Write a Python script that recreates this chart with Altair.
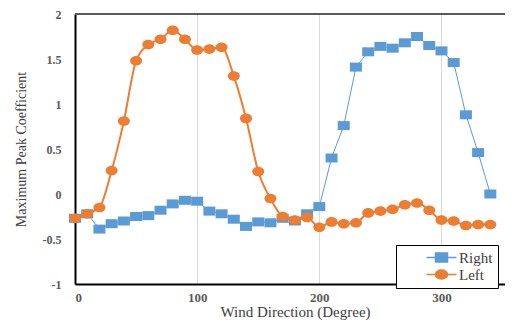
import altair as alt
import pandas as pd

directions = [0, 10, 20, 30, 40, 50, 60, 70, 80, 90, 100, 110, 120, 130, 140, 150, 160, 170,
              180, 190, 200, 210, 220, 230, 240, 250, 260, 270, 280, 290, 300, 310, 320, 330, 340]
right = [-0.27, -0.22, -0.39, -0.33, -0.30, -0.25, -0.24, -0.18, -0.11, -0.07, -0.08, -0.19,
         -0.22, -0.28, -0.36, -0.31, -0.32, -0.27, -0.30, -0.22, -0.14, 0.40, 0.76, 1.41,
         1.58, 1.64, 1.62, 1.68, 1.75, 1.65, 1.59, 1.46, 0.88, 0.46, 0.00]
left = [-0.27, -0.22, -0.15, 0.26, 0.81, 1.48, 1.66, 1.72, 1.82, 1.72, 1.60, 1.61, 1.63,
        1.31, 0.84, 0.25, -0.05, -0.25, -0.29, -0.26, -0.37, -0.31, -0.33, -0.32, -0.21,
        -0.19, -0.17, -0.12, -0.10, -0.18, -0.29, -0.30, -0.35, -0.34, -0.34]
series_names = ["Right", "Left"]
series_colors = ["#5B9BD5", "#ED7D31"]
x_ticks = [0, 100, 200, 300]
y_ticks = [-1, -0.5, 0, 0.5, 1, 1.5, 2]

df = pd.DataFrame({
    "Direction": directions * 2,
    "Value": right + left,
    "Series": ["Right"] * len(directions) + ["Left"] * len(directions),
})

FONT = "Times New Roman"

x_enc = alt.X("Direction:Q",
              scale=alt.Scale(domain=[0, 352], nice=False, zero=False),
              axis=alt.Axis(values=x_ticks, title="Wind Direction  (Degree)",
                            ticks=False, labelPadding=7, labelFontWeight="bold",
                            labelFont=FONT, labelFontSize=13, labelColor="#595959",
                            titleFont=FONT, titleFontSize=15, titleFontWeight="normal",
                            titleColor="#404040", titlePadding=0, titleX=220,
                            domainColor="#000000", domainWidth=2,
                            gridColor="#d9d9d9", gridWidth=1))
y_enc = alt.Y("Value:Q",
              scale=alt.Scale(domain=[-1, 2], nice=False, zero=False),
              axis=alt.Axis(values=y_ticks, title="Maximum  Peak Coefficient",
                            labelExpr="datum.value + ''",
                            ticks=False, labelPadding=14, labelFontWeight="bold",
                            labelFont=FONT, labelFontSize=12, labelColor="#595959",
                            titleFont=FONT, titleFontSize=14, titleFontWeight="normal",
                            titleColor="#404040", titlePadding=14,
                            domainColor="#000000", domainWidth=2,
                            gridColor="#d9d9d9", gridWidth=1))

base = alt.Chart(df)

right_line = base.transform_filter(alt.datum.Series == "Right").mark_line(
    color=series_colors[0], strokeWidth=1).encode(x=x_enc, y=y_enc)
right_pts = base.transform_filter(alt.datum.Series == "Right").mark_point(
    shape="M-1,-0.75H1V0.75H-1Z", size=144, filled=True, opacity=1,
    color=series_colors[0]).encode(x="Direction:Q", y="Value:Q")
left_line = base.transform_filter(alt.datum.Series == "Left").mark_line(
    color=series_colors[1], strokeWidth=2, interpolate="monotone").encode(x="Direction:Q", y="Value:Q")
left_pts = base.transform_filter(alt.datum.Series == "Left").mark_point(
    shape="M1,0A1,0.8,0,1,1,-1,0A1,0.8,0,1,1,1,0Z", size=144, filled=True, opacity=1,
    color=series_colors[1]).encode(x="Direction:Q", y="Value:Q")

top_rule = alt.Chart(df).mark_rule(color="#595959", strokeWidth=2).encode(y=alt.datum(2))

legend_paths = ["M-3,0H3M-1.2,-0.9H1.2V0.9H-1.2Z",
                "M-3,0H3M1.2,0A1.2,0.9,0,1,1,-1.2,0A1.2,0.9,0,1,1,1.2,0Z"]
leg = alt.Legend(orient="none", legendX=321, legendY=231, title=None,
                 fillColor="white", strokeColor="black", padding=5,
                 symbolSize=100, symbolStrokeWidth=1.5, symbolOffset=33,
                 symbolOpacity=1,
                 labelOffset=10, rowPadding=1,
                 labelFont=FONT, labelFontSize=15, labelColor="#404040")
legend_layer = base.transform_filter("false").mark_point(filled=True, opacity=1).encode(
    x="Direction:Q", y="Value:Q",
    fill=alt.Fill("Series:N", scale=alt.Scale(domain=series_names, range=series_colors), legend=leg),
    stroke=alt.Stroke("Series:N", scale=alt.Scale(domain=series_names, range=series_colors), legend=leg),
    shape=alt.Shape("Series:N", scale=alt.Scale(domain=series_names, range=legend_paths), legend=leg),
)

chart = alt.layer(top_rule, right_line, right_pts, left_line, left_pts, legend_layer).properties(
    width=430, height=270,
    autosize=alt.AutoSizeParams(type="none"),
    padding={"left": 67, "top": 6, "right": 0, "bottom": 36},
    background="white",
).configure_view(stroke=None)

chart.save("out.html", embed_options={"renderer": "svg", "actions": False})
